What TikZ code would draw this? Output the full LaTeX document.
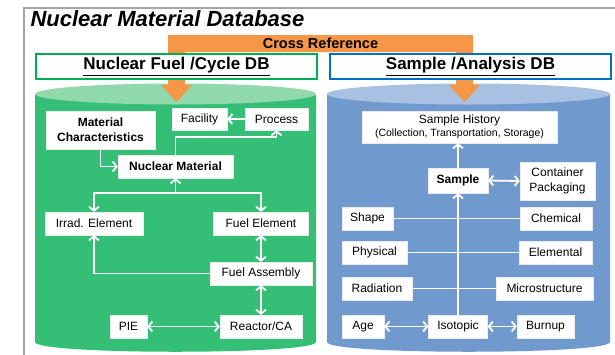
\documentclass[tikz,border=0pt]{standalone}
\usepackage{fontspec}
\setmainfont{Liberation Sans}
\usetikzlibrary{arrows.meta}

\definecolor{framegray}{RGB}{165,165,165}
\definecolor{xorange}{RGB}{247,150,70}
\definecolor{fuelgreen}{RGB}{52,190,118}
\definecolor{fueltop}{RGB}{143,217,172}
\definecolor{fuelline}{RGB}{0,176,80}
\definecolor{smpblue}{RGB}{112,153,205}
\definecolor{smptop}{RGB}{168,193,226}
\definecolor{smpline}{RGB}{0,112,192}

\tikzset{
  box/.style={draw=black!8,fill=white,inner sep=1pt,minimum height=23pt,
    align=center,font=\fontsize{12}{14}\selectfont},
  hdr/.style={fill=white,line width=2.2pt,minimum width=281pt,minimum height=25pt,
    font=\bfseries\fontsize{17}{19}\selectfont},
  lnk/.style={draw=white,line width=1.8pt},
  arr/.style={lnk,-{Straight Barb[length=4pt,width=10pt]}},
  dbl/.style={lnk,{Straight Barb[length=4pt,width=10pt]}-{Straight Barb[length=4pt,width=10pt]}},
}

\begin{document}
\begin{tikzpicture}[x=1pt,y=-1pt]
        \useasboundingbox (0,0) rectangle (615,354);

        % Outer frame
        \draw[framegray,line width=1.2pt] (24,360) -- (24,8) -- (620,8);
        \node[anchor=west,font=\bfseries\itshape\fontsize{22}{24}\selectfont] (title) at (27,19) {Nuclear Material Database};

        % Fuel cylinder
        \fill[fuelgreen] (35,95) -- (35,342) .. controls (35,355) and (316,355) .. (316,342) -- (316,95) -- cycle;
        \fill[fueltop] (175.5,94) ellipse [x radius=140.5, y radius=10.5];

        % Sample cylinder
        \fill[smpblue] (327,95) -- (327,342) .. controls (327,355) and (610,355) .. (610,342) -- (610,95) -- cycle;
        \fill[smptop] (468.5,94) ellipse [x radius=141.5, y radius=10.5];

        % Cross reference bar with its two arrows
        \fill[xorange] (168,35) -- (473,35) -- (473,85) -- (480,85) -- (464.5,102) -- (449,85) -- (456,85)
          -- (456,52) -- (185,52) -- (185,85) -- (192,85) -- (176.5,102) -- (161,85) -- (168,85) -- cycle;
        \node[font=\bfseries\fontsize{14.5}{16}\selectfont] (xref) at (320.5,43.5) {Cross Reference};

        % Header boxes
        \node[hdr,draw=fuelline] (fuelhdr) at (176.5,66.5) {\underline{Nuclear Fuel /Cycle DB}};
        \node[hdr,draw=smpline] (smphdr) at (470.5,66.5) {\underline{Sample /Analysis DB}};

        % Fuel cycle nodes
        \node[box,minimum width=109pt,minimum height=38pt,font=\bfseries\fontsize{12}{15}\selectfont] (matchar) at (100.5,130) {Material\\Characteristics};
        \node[box,minimum width=55pt,minimum height=22pt] (facility) at (199.5,119) {Facility};
        \node[box,minimum width=63pt,minimum height=22pt] (process) at (276.5,119) {Process};
        \node[box,minimum width=115pt,font=\bfseries\fontsize{12}{14}\selectfont] (nucmat) at (175.5,166.5) {Nuclear Material};
        \node[box,minimum width=98pt] (irrad) at (94,223.5) {Irrad. Element};
        \node[box,minimum width=95pt] (fuelel) at (261,223.5) {Fuel Element};
        \node[box,minimum width=102pt] (fuelasm) at (261,273.5) {Fuel Assembly};
        \node[box,minimum width=37pt] (pie) at (128.5,326.5) {PIE};
        \node[box,minimum width=82pt] (reactor) at (261,326.5) {Reactor/CA};
        \coordinate (fork) at (175.5,193);

        % Fuel cycle connectors
        \draw[arr] (matchar.south) |- (nucmat.west);
        \draw[arr] (nucmat.north) -- ++(0,-18) -| (process.south);
        \draw[arr] (process.west) -- (facility.east);
        \draw[arr] (fork) -- (nucmat.south);
        \draw[arr] (fork) -| (irrad.north);
        \draw[arr] (fork) -| (fuelel.north);
        \draw[dbl] (fuelel.south) -- (fuelasm.north);
        \draw[arr] (fuelasm.west) -| (irrad.south);
        \draw[dbl] (fuelasm.south) -- (reactor.north);
        \draw[dbl] (pie.east) -- (reactor.west);

        % Sample analysis nodes
        \node[box,minimum width=195pt,minimum height=32pt,font=\fontsize{12}{13}\selectfont] (history) at (459.5,127) {Sample History\\{\fontsize{10.5}{12}\selectfont(Collection, Transportation, Storage)}};
        \node[box,minimum width=60pt,minimum height=25pt,font=\bfseries\fontsize{12}{14}\selectfont] (sample) at (458,180.5) {Sample};
        \node[box,minimum width=75pt,minimum height=38pt,font=\fontsize{12}{15}\selectfont] (contain) at (557.5,181) {Container\\Packaging};
        \node[box,minimum width=51pt] (shape) at (367.5,218.5) {Shape};
        \node[box,minimum width=72pt] (chem) at (556,218.5) {Chemical};
        \node[box,minimum width=65pt] (phys) at (374.5,252.5) {Physical};
        \node[box,minimum width=73pt] (elem) at (555.5,252.5) {Elemental};
        \node[box,minimum width=70pt] (rad) at (377,288.5) {Radiation};
        \node[box,minimum width=97pt] (micro) at (544.5,288.5) {Microstructure};
        \node[box,minimum width=42pt] (age) at (363,326.5) {Age};
        \node[box,minimum width=59pt] (iso) at (458,326.5) {Isotopic};
        \node[box,minimum width=57pt] (burn) at (545.5,326.5) {Burnup};

        % Sample analysis connectors
        \draw[arr] (sample.north) -- (sample.north |- history.south);
        \draw[dbl] (sample.east) -- (contain.west);
        \draw[arr] (iso.north) -- (sample.south);
        \draw[lnk] (shape.east) -- (chem.west); % row lines cross the trunk
        \draw[lnk] (phys.east) -- (elem.west);
        \draw[lnk] (rad.east) -- (micro.west);
        \draw[dbl] (age.east) -- (iso.west);
        \draw[dbl] (iso.east) -- (burn.west);

\end{tikzpicture}
\end{document}
